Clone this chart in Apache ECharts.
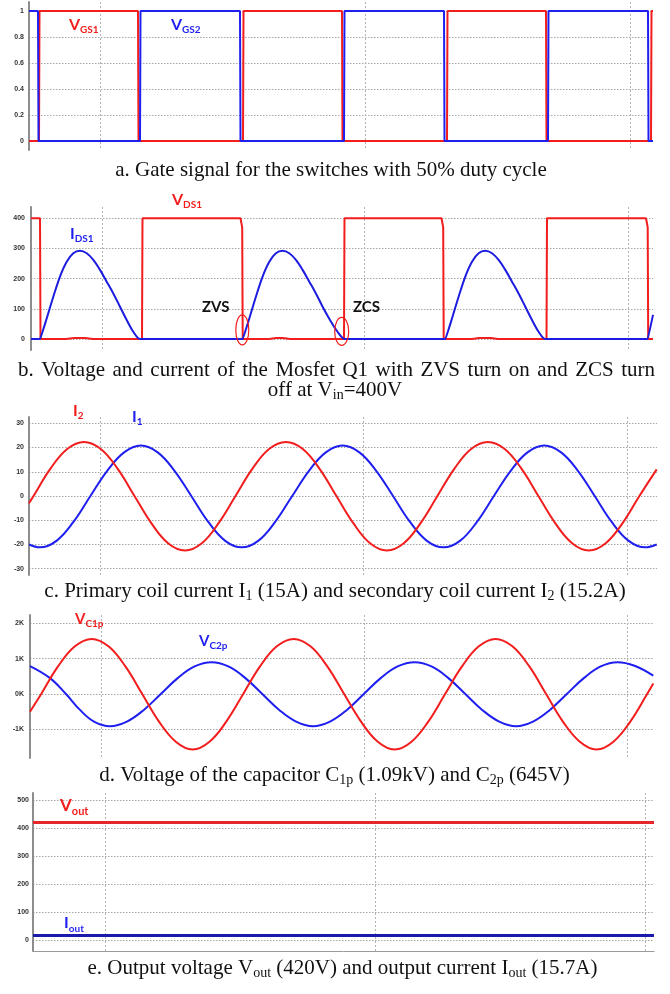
<!DOCTYPE html>
<html><head><meta charset="utf-8">
<script src="https://cdn.jsdelivr.net/npm/echarts@6/dist/echarts.min.js"></script>
<style>html,body{margin:0;padding:0;background:#fff}#c{width:670px;height:994px}</style>
</head><body><div id="c"></div>
<script>
// ================= DATA (time in µs) =================
// a. gate signals
const vgs1Time = [0, 1.0, 1.05, 10.9, 10.95, 21.4, 21.45, 31.3, 31.35, 41.8, 41.85, 51.7, 51.75, 62.2, 62.25, 62.4];
const vgs1Val  = [0, 0, 1, 1, 0, 0, 1, 1, 0, 0, 1, 1, 0, 0, 1, 1];
const vgs2Time = [0, 0.9, 0.95, 11.1, 11.15, 21.1, 21.15, 31.5, 31.55, 41.5, 41.55, 51.9, 51.95, 61.9, 61.95, 62.4];
const vgs2Val  = [1, 1, 0, 0, 1, 1, 0, 0, 1, 1, 0, 0, 1, 1, 0, 0];
const yTicksA = [0, 0.2, 0.4, 0.6, 0.8, 1];
const xGridA = [7.1, 33.6, 60.1];

// b. Vds and Ids of Q1
const vdsTime = [0, 0.9, 0.95, 3.5, 4.3, 5.4, 6.2, 11.1, 11.15, 20.95, 21.12, 21.17, 23.8, 24.5, 25.2, 25.9, 31.3, 31.35, 41.05, 41.22, 41.27, 44.1, 44.8, 46.0, 46.7, 51.55, 51.6, 61.5, 61.67, 61.72, 62.2];
const vdsVal  = [400, 400, 0, 0, 3, 3, 0, 0, 400, 400, 370, 0, 0, 3, 3, 0, 0, 400, 400, 370, 0, 0, 3, 3, 0, 0, 400, 400, 370, 0, 0];
const idsTime = [0, 0.92, 0.97, 1.57, 2.23, 2.9, 3.57, 4.23, 4.9, 5.57, 6.23, 6.9, 7.57, 8.23, 8.9, 9.57, 10.23, 10.9, 10.95,
                 21.18, 21.23, 21.83, 22.49, 23.16, 23.83, 24.49, 25.16, 25.83, 26.49, 27.16, 27.83, 28.49, 29.16, 29.9, 30.65, 31.38, 31.43,
                 41.45, 41.5, 42.1, 42.76, 43.43, 44.1, 44.76, 45.43, 46.1, 46.76, 47.43, 48.1, 48.76, 49.43, 50.1, 50.76, 51.43, 51.48,
                 61.68, 61.73, 62.2];
const idsVal  = [0, 0, 0, 68, 140, 207, 256, 284, 292, 284, 262, 229, 190, 151, 107, 63, 24, 0, 0,
                 0, 0, 68, 140, 207, 256, 284, 292, 284, 262, 229, 190, 151, 107, 63, 24, 0, 0,
                 0, 0, 68, 140, 207, 256, 284, 292, 284, 262, 229, 190, 151, 107, 63, 24, 0, 0,
                 0, 0, 80];
const yTicksB = [0, 100, 200, 300, 400];
const xGridB = [7.1, 33.3, 59.7];

// c. primary / secondary coil currents
const i2Time = [0, 0.45, 2.13, 3.82, 5.50, 7.18, 8.87, 10.55, 12.23, 13.91, 15.60, 17.28, 18.96, 20.65, 22.33, 24.01, 25.70, 27.38, 29.06, 30.74, 32.43, 34.11, 35.79, 37.48, 39.16, 40.84, 42.53, 44.21, 45.89, 47.57, 49.26, 50.94, 52.62, 54.31, 55.99, 57.67, 59.36, 61.04, 62.77];
const i2Val  = [-3, 0, 11.2, 19.4, 22.3, 19.4, 11.2, 0, -11.2, -19.5, -22.5, -19.5, -11.2, 0, 11.2, 19.4, 22.3, 19.4, 11.2, 0, -11.2, -19.5, -22.5, -19.5, -11.2, 0, 11.2, 19.4, 22.3, 19.4, 11.2, 0, -11.2, -19.5, -22.5, -19.5, -11.2, 0, 11];
const i1Time = [0, 1.10, 2.78, 4.46, 6.14, 7.82, 9.51, 11.19, 12.87, 14.55, 16.23, 17.91, 19.59, 21.27, 22.95, 24.63, 26.32, 28.00, 29.68, 31.36, 33.04, 34.72, 36.40, 38.08, 39.76, 41.44, 43.13, 44.81, 46.49, 48.17, 49.85, 51.53, 53.21, 54.89, 56.57, 58.25, 59.94, 61.62, 62.77];
const i1Val  = [-20, -21.2, -18.4, -10.6, 0, 10.4, 18.0, 20.8, 18.0, 10.4, 0, -10.6, -18.4, -21.2, -18.4, -10.6, 0, 10.4, 18.0, 20.8, 18.0, 10.4, 0, -10.6, -18.4, -21.2, -18.4, -10.6, 0, 10.4, 18.0, 20.8, 18.0, 10.4, 0, -10.6, -18.4, -21.2, -20];
const yTicksC = [-30, -20, -10, 0, 10, 20, 30];
const xGridC = [7.1, 33.4, 59.8];

// d. capacitor voltages (V)
const vc1Time = [0, 1.12, 2.80, 4.49, 6.17, 7.85, 9.54, 11.22, 12.90, 14.58, 16.27, 17.95, 19.63, 21.32, 23.00, 24.68, 26.37, 28.05, 29.73, 31.41, 33.10, 34.78, 36.46, 38.15, 39.83, 41.51, 43.20, 44.88, 46.56, 48.24, 49.93, 51.61, 53.29, 54.98, 56.66, 58.34, 60.03, 61.71, 62.33];
const vc1Val  = [-500, 0, 780, 1350, 1560, 1350, 780, 0, -780, -1350, -1570, -1350, -780, 0, 780, 1350, 1560, 1350, 780, 0, -780, -1350, -1570, -1350, -780, 0, 780, 1350, 1560, 1350, 780, 0, -780, -1350, -1570, -1350, -780, 0, 300];
const vc2Time = [0, 2.0, 3.6, 5.0, 6.4, 8.0, 9.69, 11.38, 13.08, 14.77, 16.46, 18.15, 19.84, 21.54, 23.23, 24.92, 26.61, 28.30, 30.00, 31.69, 33.38, 35.07, 36.76, 38.46, 40.15, 41.84, 43.53, 45.22, 46.92, 48.61, 50.30, 51.99, 53.68, 55.38, 57.07, 58.76, 60.45, 62.33];
const vc2Val  = [790, 450, 0, -450, -780, -910, -780, -450, 0, 450, 780, 900, 780, 450, 0, -450, -780, -910, -780, -450, 0, 450, 780, 900, 780, 450, 0, -450, -780, -910, -780, -450, 0, 450, 780, 900, 800, 520];
const yTicksD = [-1000, 0, 1000, 2000];
const xGridD = [7.1, 33.4, 59.7];

// e. output voltage / current
const outTime = [0, 62.1];
const voutVal = [420, 420];
const ioutVal = [15.7, 15.7];
const yTicksE = [0, 100, 200, 300, 400, 500];
const xGridE = [7.2, 34.2, 61.2];

// ================= LAYOUT / STYLE =================
const RED = '#f21d1d', BLUE = '#1f1ff0';
const panels = [
  {left: 29, width: 624, top: 2,   height: 148, ymin: -0.069, ymax: 1.069, ticks: yTicksA, xg: xGridA, fmt: v => String(v), margin: 5},
  {left: 31, width: 622, top: 207, height: 143, ymin: -36.5, ymax: 437.4, ticks: yTicksB, xg: xGridB, fmt: v => String(v), margin: 6},
  {left: 29, width: 628, top: 417, height: 158, ymin: -32.6, ymax: 32.6, ticks: yTicksC, xg: xGridC, fmt: v => String(v), margin: 5},
  {left: 30, width: 623, top: 615, height: 143, ymin: -1811, ymax: 2236, ticks: yTicksD, xg: xGridD, fmt: v => (v / 1000) + 'K', margin: 6},
  {left: 33, width: 621, top: 793, height: 158, ymin: -39.3, ymax: 525, ticks: yTicksE, xg: xGridE, fmt: v => String(v), margin: 4}
];
const zip = (t, v) => t.map((x, i) => [x, v[i]]);

const grid = [], xAxis = [], yAxis = [];
panels.forEach((p, i) => {
  grid.push({left: p.left, width: p.width, top: p.top, height: p.height});
  xAxis.push({
    type: 'value', gridIndex: i, min: 0, max: p.width / 10,
    axisLine: {show: i === 4, onZero: false, lineStyle: {color: '#9a9a9a', width: 1}},
    axisTick: {show: false, customValues: p.xg},
    axisLabel: {show: false, customValues: p.xg},
    splitLine: {show: true, lineStyle: {color: '#b4b4b4', width: 1, type: [2, 2]}}
  });
  yAxis.push({
    type: 'value', gridIndex: i, min: p.ymin, max: p.ymax,
    axisLine: {show: true, onZero: false, lineStyle: {color: '#8d8d8d', width: 2}},
    axisTick: {show: false, customValues: p.ticks},
    axisLabel: {show: true, customValues: p.ticks, formatter: p.fmt, fontSize: 7, fontWeight: 'bold',
                fontFamily: '"Liberation Sans Narrow", "Liberation Sans", Arial', color: '#333', margin: p.margin},
    splitLine: {show: true, lineStyle: {color: '#a6a6a6', width: 1, type: [1.5, 1.5]}}
  });
});

function line(name, gi, t, v, color, width, smooth) {
  return {name, type: 'line', xAxisIndex: gi, yAxisIndex: gi, data: zip(t, v), showSymbol: false,
          smooth: smooth || false, lineStyle: {color, width}, itemStyle: {color}, silent: true, z: 3};
}
const series = [
  line('VGS1', 0, vgs1Time, vgs1Val, RED, 2),
  line('VGS2', 0, vgs2Time, vgs2Val, BLUE, 2),
  line('VDS1', 1, vdsTime, vdsVal, RED, 2),
  line('IDS1', 1, idsTime, idsVal, '#1c1ce0', 2, 0.35),
  line('I1', 2, i1Time, i1Val, BLUE, 2, 0.4),
  line('I2', 2, i2Time, i2Val, RED, 2, 0.4),
  line('VC2p', 3, vc2Time, vc2Val, BLUE, 2, 0.4),
  line('VC1p', 3, vc1Time, vc1Val, RED, 2, 0.4),
  line('Vout', 4, outTime, voutVal, '#e5262b', 3),
  line('Iout', 4, outTime, ioutVal, '#1a1aae', 3)
];

const chart = echarts.init(document.getElementById('c'), null, {renderer: 'canvas'});
chart.setOption({animation: false, backgroundColor: '#fff', grid, xAxis, yAxis, series});

// ================= TEXT (labels & captions) =================
const mctx = document.createElement('canvas').getContext('2d');
function tw(font, s) { mctx.font = font; return mctx.measureText(s).width; }
// parts: [[text, isSub], ...]
function run(parts, o) {
  const mf = `${o.weight || 'normal'} ${o.size}px ${o.family}`;
  const sf = `${o.weight || 'normal'} ${o.subSize}px ${o.family}`;
  const widths = parts.map(([s, sub]) => tw(sub ? sf : mf, s));
  const total = widths.reduce((a, b) => a + b, 0);
  let x = o.cx !== undefined ? o.cx - total / 2 : o.x;
  const els = [];
  parts.forEach(([s, sub], i) => {
    els.push({type: 'text', x, y: o.y + (sub ? o.subDy : 0), silent: true,
      style: {text: s, font: sub ? sf : mf, fill: o.color, align: 'left', verticalAlign: 'middle'}});
    x += widths[i];
  });
  return els;
}
const LBL = 'Lato, "Open Sans", sans-serif';
const SERIF = '"Liberation Serif", "Times New Roman", serif';
function lbl(main, sub, x, y, color, size) {
  size = size || 16;
  const parts = [[main, false]];
  if (sub) parts.push([sub, true]);
  return run(parts, {x, y, size, subSize: Math.round(size * 0.64), subDy: size * 0.34, family: LBL, weight: 'bold', color});
}
function cap(parts, cx, y) {
  return run(parts, {cx, y, size: 21, subSize: 14, subDy: 5, family: SERIF, color: '#111'});
}
// justified single line (first line of a justified paragraph)
function capJustified(text, x0, x1, y) {
  const font = `21px ${SERIF}`;
  const words = text.split(' ');
  const ws = words.map(w => tw(font, w));
  const gap = (x1 - x0 - ws.reduce((a, b) => a + b, 0)) / (words.length - 1);
  let x = x0;
  return words.map((w, i) => {
    const el = {type: 'text', x, y, silent: true, style: {text: w, font, fill: '#111', align: 'left', verticalAlign: 'middle'}};
    x += ws[i] + gap;
    return el;
  });
}

let g = [];
g = g.concat(lbl('V', 'GS1', 69, 24.5, RED));
g = g.concat(lbl('V', 'GS2', 171, 24.5, BLUE));
g = g.concat(lbl('V', 'DS1', 172, 199.5, RED));
g = g.concat(lbl('I', 'DS1', 70, 233.5, BLUE));
g = g.concat(lbl('ZVS', null, 202, 307.5, '#111', 15));
g = g.concat(lbl('ZCS', null, 353, 307.5, '#111', 15));
g = g.concat(lbl('I', '2', 73, 410.5, RED));
g = g.concat(lbl('I', '1', 132, 416.5, BLUE));
g = g.concat(lbl('V', 'C1p', 75, 619, RED, 15));
g = g.concat(lbl('V', 'C2p', 199, 641, BLUE, 15));
g = g.concat(lbl('V', 'out', 60, 806, RED, 17));
g = g.concat(lbl('I', 'out', 64, 923, BLUE, 16));

g = g.concat(cap([['a. Gate signal for the switches with 50% duty cycle', false]], 331, 170));
g = g.concat(capJustified('b. Voltage and current of the Mosfet Q1 with ZVS turn on and ZCS turn', 18, 655, 370));
g = g.concat(cap([['off at V', false], ['in', true], ['=400V', false]], 335, 390));
g = g.concat(cap([['c. Primary coil current I', false], ['1', true], [' (15A) and secondary coil current I', false], ['2', true], [' (15.2A)', false]], 335, 591));
g = g.concat(cap([['d. Voltage of the capacitor C', false], ['1p', true], [' (1.09kV) and C', false], ['2p', true], [' (645V)', false]], 334.5, 775));
g = g.concat(cap([['e. Output voltage V', false], ['out', true], [' (420V) and output current I', false], ['out', true], [' (15.7A)', false]], 342.5, 968));

// ZVS / ZCS ellipses anchored to data coordinates of panel b
const zvs = chart.convertToPixel({gridIndex: 1}, [21.13, 30]);
const zcs = chart.convertToPixel({gridIndex: 1}, [31.07, 25]);
g.push({type: 'ellipse', silent: true, shape: {cx: zvs[0], cy: zvs[1], rx: 6.5, ry: 15}, style: {fill: 'none', stroke: '#f21d1d', lineWidth: 1.2}, z: 10});
g.push({type: 'ellipse', silent: true, shape: {cx: zcs[0], cy: zcs[1], rx: 7, ry: 14}, style: {fill: 'none', stroke: '#f21d1d', lineWidth: 1.2}, z: 10});

chart.setOption({graphic: g});
</script>
</body></html>
